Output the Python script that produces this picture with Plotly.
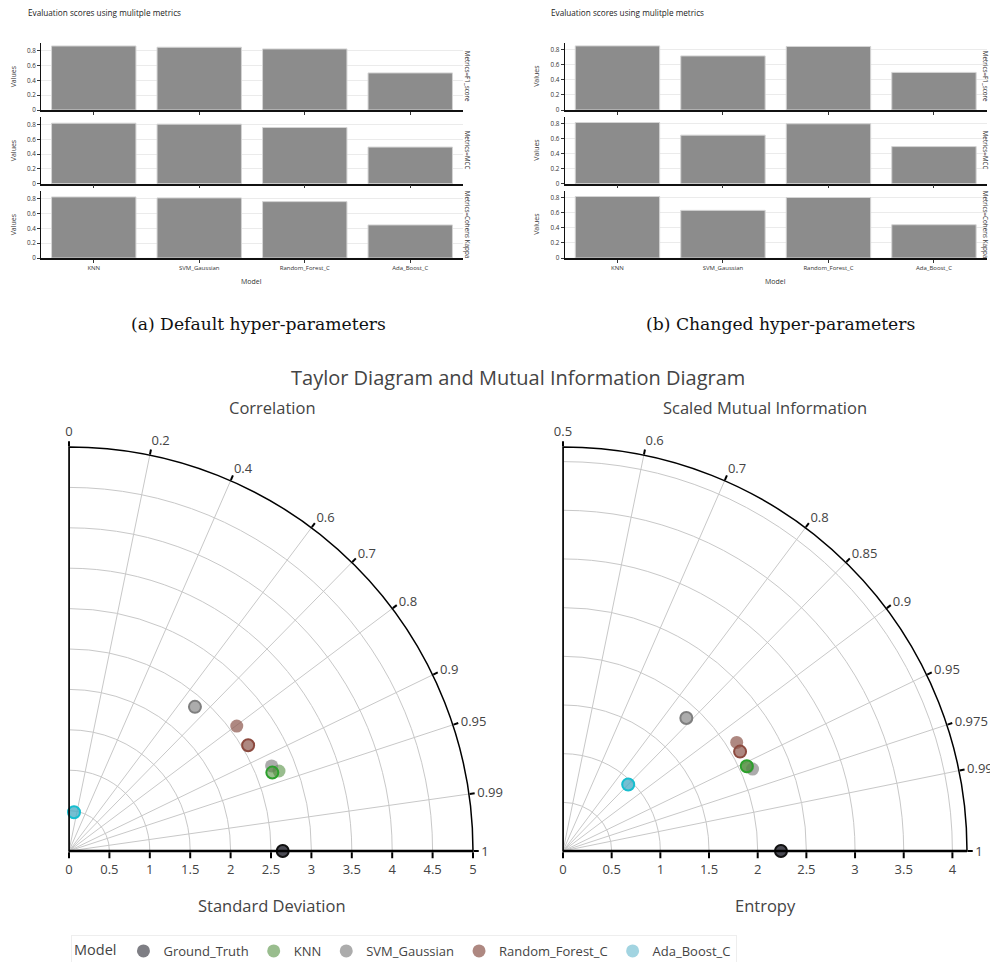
import numpy as np
import plotly.graph_objects as go

W, H = 990, 962

# ---------------- data ----------------
models = ["KNN", "SVM_Gaussian", "Random_Forest_C", "Ada_Boost_C"]
metric_labels = ["Metrics=F1_score", "Metrics=MCC", "Metrics=Cohens Kappa"]

default_f1 = [0.862, 0.845, 0.822, 0.499]
default_mcc = [0.818, 0.805, 0.760, 0.495]
default_kappa = [0.822, 0.809, 0.759, 0.445]

changed_f1 = [0.848, 0.715, 0.840, 0.497]
changed_mcc = [0.813, 0.645, 0.796, 0.493]
changed_kappa = [0.813, 0.630, 0.800, 0.440]

legend_models = ["Ground_Truth", "KNN", "SVM_Gaussian", "Random_Forest_C", "Ada_Boost_C"]
fill_colors = ["rgba(40,40,50,0.6)", "rgba(70,135,50,0.55)", "rgba(127,127,127,0.65)",
               "rgba(140,86,75,0.7)", "rgba(70,170,195,0.5)"]
edge_colors = ["#111111", "#2ca02c", "#7f7f7f", "#8c4a3f", "#17becf"]

taylor_std_default = [2.645, 2.781, 2.720, 2.589, 0.483]
taylor_corr_default = [1.0, 0.9345, 0.922, 0.802, 0.128]
taylor_std_changed = [2.645, 2.697, 2.369, 2.575, 0.483]
taylor_corr_changed = [1.0, 0.933, 0.658, 0.861, 0.128]

mi_entropy_default = [2.239, 2.085, 2.121, 2.104, 0.957]
mi_smi_default = [1.0, 0.955, 0.959, 0.924, 0.850]
mi_entropy_changed = [2.239, 2.079, 1.863, 2.086, 0.957]
mi_smi_changed = [1.0, 0.954, 0.840, 0.936, 0.850]

taylor_ticks = [0, 0.2, 0.4, 0.6, 0.7, 0.8, 0.9, 0.95, 0.99, 1]
mi_ticks = [0.5, 0.6, 0.7, 0.8, 0.85, 0.9, 0.95, 0.975, 0.99, 1]
taylor_rmax = 5.0
mi_rmax = 4.15


def px_x(p):
    return p / W


def px_y(p):
    return 1 - p / H


def corr_to_deg(c):
    return np.degrees(np.arccos(np.clip(np.asarray(c, dtype=float), -1, 1)))


def smi_to_deg(s):
    return corr_to_deg(2 * np.asarray(s, dtype=float) - 1)


def note(text, x, y, size, color="#444", family=None, angle=0, xanchor="center"):
    f = dict(size=size, color=color)
    if family:
        f["family"] = family
    return dict(text=text, x=px_x(x), y=px_y(y), xref="paper", yref="paper",
                showarrow=False, xanchor=xanchor, yanchor="middle", textangle=angle, font=f)


fig = go.Figure()
layout = {}
annotations = []

# ---------------- bar charts ----------------
row_px = [(42.7, 110.0), (116.7, 183.7), (190.7, 258.0)]
panels = [
    (41.0, 463.0, [default_f1, default_mcc, default_kappa], 0.906, 26, 13, 467.5),
    (564.7, 986.7, [changed_f1, changed_mcc, changed_kappa], 0.89, 549, 536.5, 985.5),
]
ax = 0
for pi, (x0, x1, series, ymax, title_x, val_x, fac_x) in enumerate(panels):
    for ri, vals in enumerate(series):
        ax += 1
        xa = "x" if ax == 1 else f"x{ax}"
        ya = "y" if ax == 1 else f"y{ax}"
        fig.add_trace(go.Bar(
            x=models, y=vals, xaxis=xa, yaxis=ya, showlegend=False,
            marker=dict(color="#8c8c8c", line=dict(color="#d4d4d4", width=1)),
            hoverinfo="skip"))
        top, bot = row_px[ri]
        layout["xaxis" if ax == 1 else f"xaxis{ax}"] = dict(
            domain=[px_x(x0), px_x(x1)], anchor=ya, showline=True, linecolor="#111",
            linewidth=1.5, ticks="outside", ticklen=3, tickcolor="#333",
            showticklabels=(ri == 2), tickfont=dict(size=6, color="#333"),
            showgrid=False, zeroline=False)
        layout["yaxis" if ax == 1 else f"yaxis{ax}"] = dict(
            domain=[px_y(bot), px_y(top)], anchor=xa, range=[0, ymax],
            showline=True, linecolor="#111", linewidth=1, ticks="outside", ticklen=3,
            tickcolor="#333", dtick=0.2, tickfont=dict(size=6.3, color="#333"),
            showgrid=True, gridcolor="#ebebeb", zeroline=False)
        annotations.append(note("Values", val_x, (top + bot) / 2, 7, "#333", angle=-90))
        annotations.append(note(metric_labels[ri], fac_x, (top + bot) / 2, 6.3, "#333",
                                angle=90))
    annotations.append(note("Evaluation scores using mulitple metrics", title_x, 13, 8.2,
                            "#222", xanchor="left"))
    annotations.append(note("Model", (x0 + x1) / 2, 281, 7, "#333"))

# captions
annotations.append(note("(a) Default hyper-parameters", 258, 324, 17.2, "#111",
                        family="DejaVu Serif"))
annotations.append(note("(b) Changed hyper-parameters", 780, 324, 17.2, "#111",
                        family="DejaVu Serif"))

# ---------------- Taylor & MI diagrams ----------------
for i, name in enumerate(legend_models):
    fig.add_trace(go.Scatterpolar(
        r=[taylor_std_default[i]], theta=corr_to_deg([taylor_corr_default[i]]),
        subplot="polar", mode="markers", name=name, legendgroup=name,
        marker=dict(size=13, color=fill_colors[i], line=dict(width=0))))
    fig.add_trace(go.Scatterpolar(
        r=[mi_entropy_default[i]], theta=smi_to_deg([mi_smi_default[i]]),
        subplot="polar2", mode="markers", name=name, legendgroup=name, showlegend=False,
        marker=dict(size=13, color=fill_colors[i], line=dict(width=0))))
for i, name in enumerate(legend_models):
    fig.add_trace(go.Scatterpolar(
        r=[taylor_std_changed[i]], theta=corr_to_deg([taylor_corr_changed[i]]),
        subplot="polar", mode="markers", name=name, legendgroup=name, showlegend=False,
        marker=dict(size=12, color=fill_colors[i], line=dict(width=2, color=edge_colors[i]))))
    fig.add_trace(go.Scatterpolar(
        r=[mi_entropy_changed[i]], theta=smi_to_deg([mi_smi_changed[i]]),
        subplot="polar2", mode="markers", name=name, legendgroup=name, showlegend=False,
        marker=dict(size=12, color=fill_colors[i], line=dict(width=2, color=edge_colors[i]))))

# left edge line of each quarter (sector boundary)
for sp, rmax in (("polar", taylor_rmax), ("polar2", mi_rmax)):
    fig.add_trace(go.Scatterpolar(r=[0, rmax], theta=[90, 90], subplot=sp, mode="lines",
                                  line=dict(color="#444", width=2), showlegend=False,
                                  hoverinfo="skip"))


def polar_cfg(x0, rmax, ticks, conv):
    return dict(
        domain=dict(x=[px_x(x0), px_x(x0 + 404)], y=[px_y(851), px_y(447)]),
        sector=[0, 90], bgcolor="white",
        radialaxis=dict(range=[0, rmax], tickmode="linear", tick0=0, dtick=0.5,
                        angle=0, tickangle=0, showline=True, linecolor="black",
                        linewidth=2.5, ticks="outside", ticklen=6, tickwidth=2,
                        tickcolor="black", gridcolor="#c8c8c8", gridwidth=1,
                        tickfont=dict(size=13, color="#444")),
        angularaxis=dict(tickmode="array", tickvals=list(conv(ticks)),
                         ticktext=[str(t) for t in ticks], rotation=0,
                         direction="counterclockwise", showline=True, linecolor="black",
                         linewidth=1.5, ticks="outside", ticklen=5, tickwidth=2,
                         tickcolor="black", gridcolor="#c8c8c8", gridwidth=1,
                         tickfont=dict(size=13, color="#444")),
    )


layout["polar"] = polar_cfg(69, taylor_rmax, taylor_ticks, corr_to_deg)
layout["polar2"] = polar_cfg(563, mi_rmax, mi_ticks, smi_to_deg)

for txt, x, y, s in [
    ("Taylor Diagram and Mutual Information Diagram", 518, 377, 20),
    ("Correlation", 272, 407, 16.5),
    ("Scaled Mutual Information", 765, 407, 16.5),
    ("Standard Deviation", 272, 905, 16.5),
    ("Entropy", 765, 905, 16.5),
]:
    annotations.append(note(txt, x, y, s))

fig.update_layout(
    width=W, height=H, margin=dict(l=0, r=0, t=0, b=0, autoexpand=False),
    paper_bgcolor="white", plot_bgcolor="white",
    font=dict(family="Open Sans", color="#444"),
    bargap=0.2, annotations=annotations,
    legend=dict(orientation="h", x=px_x(71), y=px_y(935), xanchor="left", yanchor="top",
                title=dict(text="Model", font=dict(size=14.5)), font=dict(size=13),
                bordercolor="#eeeeee", borderwidth=1, bgcolor="white"),
    **layout,
)

fig.write_html("out.html")
